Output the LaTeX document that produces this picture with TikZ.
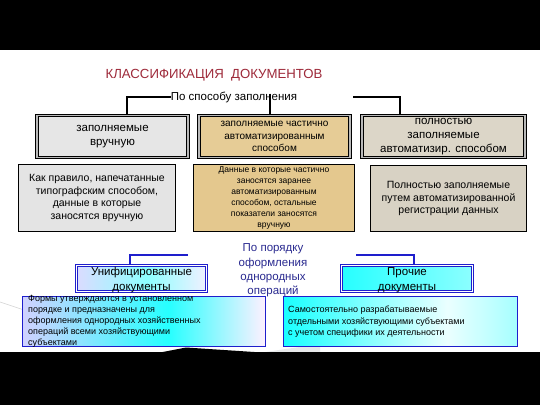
\documentclass[tikz,border=0pt]{standalone}
\usepackage{fontspec}
\setmainfont{Liberation Sans}
\definecolor{titlered}{HTML}{9E2A3A}
\definecolor{bluetxt}{HTML}{2A2A90}
\definecolor{bborder}{HTML}{1E1ECC}
\definecolor{fgray}{HTML}{E6E6E6}
\definecolor{ftan}{HTML}{E6CC96}
\definecolor{fbeige}{HTML}{DCD6C8}
\definecolor{fgrayb}{HTML}{E4E4E4}
\definecolor{ftanb}{HTML}{E4C88E}
\definecolor{fbeigeb}{HTML}{D8D2C4}
\pgfdeclarehorizontalshading{ushadeA}{100bp}{color(0bp)=(blue!14); color(25bp)=(blue!14); color(52bp)=(cyan!45); color(75bp)=(blue!6); color(100bp)=(blue!6)}
\pgfdeclarehorizontalshading{ushadeB}{100bp}{color(0bp)=(blue!18!white); color(25bp)=(blue!18!white); color(55bp)=(cyan!85); color(75bp)=(magenta!6); color(100bp)=(magenta!6)}
\pgfdeclarehorizontalshading{rshadeA}{100bp}{color(0bp)=(cyan!85); color(25bp)=(cyan!85); color(75bp)=(cyan!45); color(100bp)=(cyan!45)}
\pgfdeclarehorizontalshading{rshadeB}{100bp}{color(0bp)=(cyan!90); color(25bp)=(cyan!90); color(60bp)=(cyan!8); color(75bp)=(cyan!35); color(100bp)=(cyan!35)}
\newcommand{\fs}[2]{\fontsize{#1}{#2}\selectfont}
\tikzset{
  topbox/.style={draw=black, line width=1.2pt, double=gray!55, double distance=1.4pt, inner sep=0pt, align=center},
  descbox/.style={draw=black, line width=1.2pt, inner sep=0pt, align=center},
  unibox/.style={draw=bborder, line width=1.3pt, double=white, double distance=1pt, inner sep=0pt, align=center},
  fbox/.style={draw=bborder, line width=1.3pt, inner sep=0pt},
  blackconn/.style={draw=black, line width=1.8pt},
  blueconn/.style={draw=bborder, line width=1.8pt},
  txt/.style={inner sep=0pt, align=center},
}
\begin{document}
\begin{tikzpicture}[x=1pt,y=-1pt]
\useasboundingbox (0,0) rectangle (540,405);
\fill[white] (0,0) rectangle (540,405);
% decorations
\fill[black] (0,0) rectangle (540,50);
\draw[gray!35, line width=0.6pt] (0,302) -- (24,310);
\fill[cyan!8!gray!20] (262,352.5) -- (320,344) -- (320,352.5) -- cycle;
\fill[black] (0,352) rectangle (540,405);
\fill[black] (160,352.5) -- (186,347.5) -- (262,352.5) -- cycle;
% title
\node[txt, text=titlered, font=\fs{13.2}{15}] (title) at (214,75) {КЛАССИФИКАЦИЯ\ \ ДОКУМЕНТОВ};
\node[txt, font=\fs{11.5}{13}] (p1) at (234,97) {По способу заполнения};
% top boxes
\node[topbox, fill=fgray, minimum width=151pt, minimum height=42pt, font=\fs{11.5}{14}] (b1) at (112.5,136.5) {заполняемые\\вручную};
\node[topbox, fill=ftan, minimum width=151pt, minimum height=42pt, font=\fs{10}{12.5}] (b2) at (274.5,136.5) {заполняемые частично\\автоматизированным\\способом};
\node[topbox, fill=fbeige, minimum width=163pt, minimum height=42pt, font=\fs{11.5}{14.3}] (b3) at (443.5,136.5) {полностью\\заполняемые\\автоматизир. способом};
% connectors top
\coordinate (c3) at (353,97);
\draw[blackconn] (p1.west) -| ([xshift=14.5pt]b1.north);
\draw[blackconn] ([xshift=-4.5pt,yshift=3pt]b2.north |- p1.center) -- ([xshift=-4.5pt]b2.north);
\draw[blackconn] (c3) -| ([xshift=-43.5pt]b3.north);
% description boxes
\node[descbox, fill=fgrayb, minimum width=157pt, minimum height=67pt, font=\fs{10.5}{12.8}] (b4) at (97,198) {Как правило, напечатанные\\типографским способом,\\данные в которые\\заносятся вручную};
\node[descbox, fill=ftanb, minimum width=161pt, minimum height=67pt, font=\fs{8.5}{10.9}] (b5) at (274,198) {Данные в которые частично\\заносятся заранее\\автоматизированным\\способом, остальные\\показатели заносятся\\вручную};
\node[descbox, fill=fbeigeb, minimum width=156pt, minimum height=66pt, font=\fs{10.5}{12.3}] (b6) at (448.5,198.5) {Полностью заполняемые\\путем автоматизированной\\регистрации данных};
% second classification
\node[txt, text=bluetxt, font=\fs{11.5}{14.3}] (q) at (273,270.5) {По порядку\\оформления\\однородных\\операций};
\node[unibox, shading=ushadeA, minimum width=130pt, minimum height=26pt] (u1) at (141.5,278.5) {};
\node[unibox, shading=rshadeA, minimum width=131pt, minimum height=26pt] (r1) at (407,278.5) {};
\node[fbox, shading=ushadeB, minimum width=243pt, minimum height=50pt] (u2) at (144,321.5) {};
\node[fbox, shading=rshadeB, minimum width=234pt, minimum height=50pt] (r2) at (400.5,321.5) {};
\node[txt, font=\fs{11.5}{14.6}] (u1t) at (141.5,280) {Унифицированные\\документы};
\node[txt, font=\fs{11.5}{14.6}] (r1t) at (407,280) {Прочие\\документы};
\node[inner sep=0pt, align=left, anchor=north west, font=\fs{9}{10.9}] (u2t) at (28,295) {Формы утверждаются в установленном\\порядке и предназначены для\\оформления однородных хозяйственных\\операций всеми хозяйствующими\\субъектами};
\node[inner sep=0pt, align=left, anchor=north west, font=\fs{9}{11.2}] (r2t) at (288,306) {Самостоятельно разрабатываемые\\отдельными хозяйствующими субъектами\\с учетом специфики их деятельности};
\coordinate (c4) at (188,255);
\coordinate (c5) at (356,255);
\draw[blueconn] (c4) -| ([xshift=-11.5pt]u1.north);
\draw[blueconn] (c5) -| ([xshift=7pt]r1.north);
\end{tikzpicture}
\end{document}
